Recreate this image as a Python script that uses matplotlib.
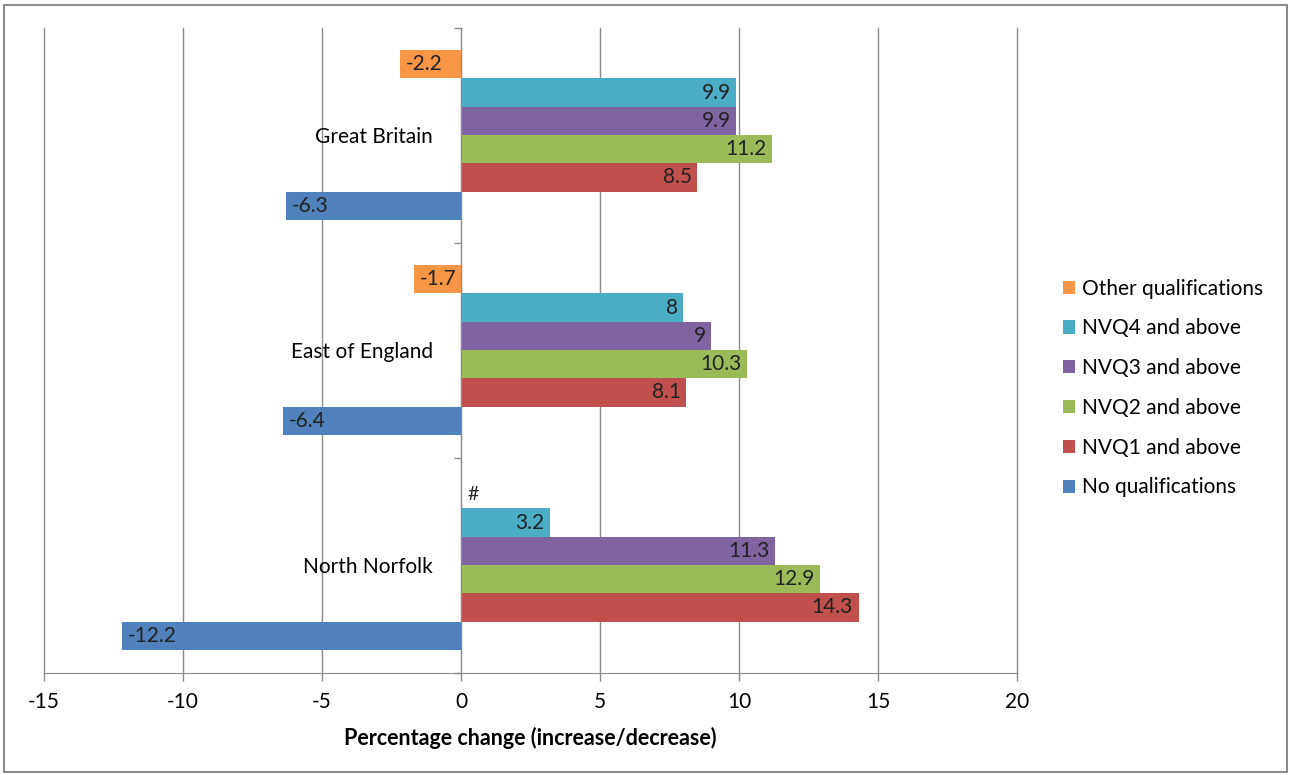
"""Percentage change in qualification levels: North Norfolk, East of England, Great Britain."""

import matplotlib
matplotlib.use("Agg")
import matplotlib.pyplot as plt
import numpy as np
from matplotlib.patches import Patch, Rectangle

plt.rcParams["font.family"] = ["Lato", "DejaVu Sans"]

# categories bottom-to-top, as Excel draws them
categories = ["North Norfolk", "East of England", "Great Britain"]

# series drawn bottom-to-top inside each group
series_names = [
    "No qualifications",
    "NVQ1 and above",
    "NVQ2 and above",
    "NVQ3 and above",
    "NVQ4 and above",
    "Other qualifications",
]
no_quals = [-12.2, -6.4, -6.3]
nvq1 = [14.3, 8.1, 8.5]
nvq2 = [12.9, 10.3, 11.2]
nvq3 = [11.3, 9.0, 9.9]
nvq4 = [3.2, 8.0, 9.9]
other_quals = [np.nan, -1.7, -2.2]  # North Norfolk suppressed (#)

series_values = [no_quals, nvq1, nvq2, nvq3, nvq4, other_quals]
series_colors = ["#4F81BD", "#C0504D", "#9BBB59", "#8064A2", "#4BACC6", "#F79646"]

x_ticks = [-15, -10, -5, 0, 5, 10, 15, 20]

W, H = 1290, 775
FS = 15
fig = plt.figure(figsize=(W / 100, H / 100), dpi=100)
ax = fig.add_axes([44 / W, 1 - 672.5 / H, (1017 - 44) / W, (672.5 - 27.5) / H])

grid_col = "#8C8C8C"
label_col = "#222222"
y = np.arange(len(categories))
bar_h = 0.79 / len(series_names)

for i, (name, vals, col) in enumerate(zip(series_names, series_values, series_colors)):
    offs = y + (i - 2.5) * bar_h
    vals = np.asarray(vals, dtype=float)
    ax.barh(offs, vals, height=bar_h, color=col, label=name, zorder=3)
    for yy, v in zip(offs, vals):
        if np.isnan(v):
            ax.text(0.25, yy, "#", ha="left", va="center", fontsize=FS - 1, color=label_col, zorder=4)
            continue
        if v >= 0:
            ax.text(v - 0.2, yy, f"{v:g}", ha="right", va="center", fontsize=FS,
                    color=label_col, zorder=4)
        else:
            ax.text(v + 0.2, yy, f"{v:g}", ha="left", va="center", fontsize=FS,
                    color=label_col, zorder=4)

ax.set_xlim(-15, 20)
ax.set_ylim(-0.5, len(categories) - 0.5)
ax.set_xticks(x_ticks)
ax.set_xticklabels([str(t) for t in x_ticks], fontsize=FS)
ax.xaxis.grid(True, color=grid_col, linewidth=1, zorder=0)
for gl in ax.get_xgridlines():
    gl.set_clip_on(False)
ax.tick_params(axis="x", direction="out", length=6, width=1, color=grid_col, pad=8)

# category axis sits at x=0, ticks between groups
ax.spines["left"].set_position(("data", 0))
ax.spines["left"].set_color(grid_col)
ax.spines["left"].set_zorder(5)
ax.set_yticks(y)
ax.set_yticklabels(categories, fontsize=FS)
ax.tick_params(axis="y", which="major", length=0, pad=20)
ax.set_yticks(np.arange(len(categories) + 1) - 0.5, minor=True)
ax.tick_params(axis="y", which="minor", length=5, width=1, color=grid_col, direction="out")

for s in ("top", "right"):
    ax.spines[s].set_visible(False)
ax.spines["bottom"].set_color(grid_col)

ax.set_xlabel("Percentage change (increase/decrease)", fontsize=15.5, fontweight="bold", labelpad=11)

handles = [Patch(facecolor=c, label=n) for n, c in zip(series_names, series_colors)][::-1]
fig.legend(handles=handles, loc="center left", bbox_to_anchor=(1044 / W, 1 - 388 / H),
           frameon=False, fontsize=FS, handlelength=0.6, handleheight=0.6,
           handletextpad=0.3, labelspacing=0.95)

# outer chart frame
fig.patches.append(Rectangle((4 / W, 3 / H), 1283 / W, 767 / H, transform=fig.transFigure,
                             fill=False, edgecolor="#8C8C8C", linewidth=1.5))

fig.savefig("out.png", dpi=100)
plt.close(fig)
